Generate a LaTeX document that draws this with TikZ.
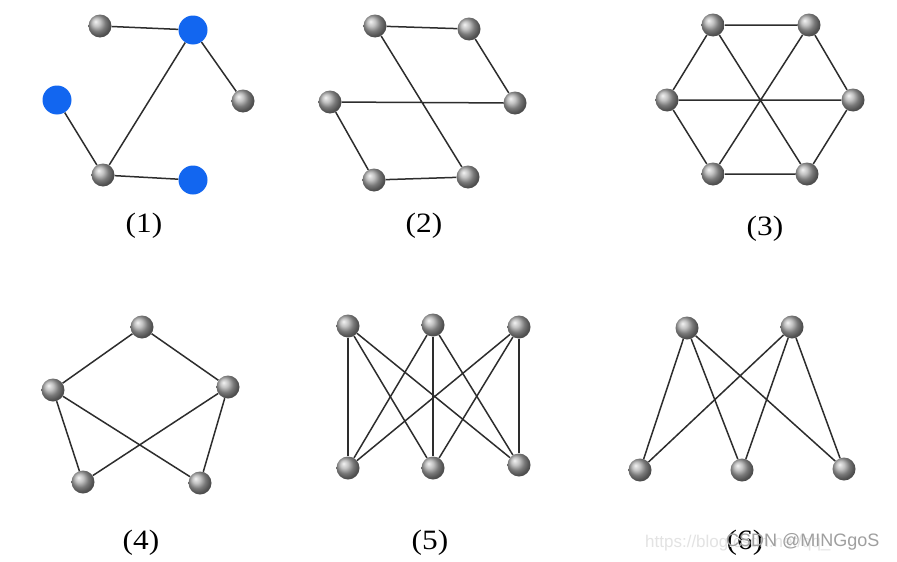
\documentclass[tikz,border=0pt]{standalone}
\usepackage{fontspec}
\usetikzlibrary{backgrounds}
\setmainfont{Liberation Serif}
\newfontfamily\wmfont{Liberation Sans}
\definecolor{nodeblue}{RGB}{18,102,240}
\definecolor{edgegray}{RGB}{45,45,45}
\begin{document}
\begin{tikzpicture}[x=1pt,y=-1pt,
  gnode/.style={circle,inner sep=0pt,minimum size=23pt,ball color=gray!65},
  bnode/.style={circle,inner sep=0pt,minimum size=29pt,fill=nodeblue},
  edge/.style={draw=edgegray,line width=1.5pt},
  lab/.style={font=\fontsize{28}{30}\selectfont,inner sep=0pt,xscale=1.12}]
\useasboundingbox (0,0) rectangle (897,562);

% ---------- (1)
\node[gnode] (n1a) at (100,26) {};
\node[bnode] (n1b) at (193,30) {};
\node[gnode] (n1c) at (243,101) {};
\node[bnode] (n1d) at (57,100) {};
\node[gnode] (n1e) at (103,175) {};
\node[bnode] (n1f) at (193,180) {};
\node[lab] (l1) at (144,226) {(1)};

% ---------- (2)
\node[gnode] (n2a) at (375,26) {};
\node[gnode] (n2b) at (469,29) {};
\node[gnode] (n2c) at (330,102) {};
\node[gnode] (n2d) at (515,103) {};
\node[gnode] (n2e) at (374,180) {};
\node[gnode] (n2f) at (468,177) {};
\node[lab] (l2) at (424,226) {(2)};

% ---------- (3)
\node[gnode] (n3a) at (713,25) {};
\node[gnode] (n3b) at (809,25) {};
\node[gnode] (n3c) at (667,100) {};
\node[gnode] (n3d) at (853,100) {};
\node[gnode] (n3e) at (713,174) {};
\node[gnode] (n3f) at (807,174) {};
\node[lab] (l3) at (765,229) {(3)};

% ---------- (4)
\node[gnode] (n4a) at (142,327) {};
\node[gnode] (n4b) at (53,390) {};
\node[gnode] (n4c) at (228,387) {};
\node[gnode] (n4d) at (83,482) {};
\node[gnode] (n4e) at (200,483) {};
\node[lab] (l4) at (141,543) {(4)};

% ---------- (5)
\node[gnode] (n5a) at (348,326) {};
\node[gnode] (n5b) at (433,325) {};
\node[gnode] (n5c) at (519,327) {};
\node[gnode] (n5d) at (348,468) {};
\node[gnode] (n5e) at (433,468) {};
\node[gnode] (n5f) at (519,465) {};
\node[lab] (l5) at (430,543) {(5)};

% ---------- (6)
\node[gnode] (n6a) at (687,328) {};
\node[gnode] (n6b) at (792,327) {};
\node[gnode] (n6c) at (640,470) {};
\node[gnode] (n6d) at (742,470) {};
\node[gnode] (n6e) at (844,469) {};
\node[lab] (l6) at (745,543) {(6)};

% watermark (overlays the label, as in the reference)
\node[font=\wmfont\fontsize{17}{18}\selectfont,text=gray!22,anchor=west,inner sep=0pt] (wm1) at (645,543) {https://blog.csdn.net/qq\_};
\node[font=\wmfont\fontsize{18}{19}\selectfont,text=gray!75,anchor=west,inner sep=0pt] (wm2) at (726,542) {CSDN @MINGgoS};

\begin{pgfonlayer}{background}
\fill[white] (0,0) rectangle (897,562);
% (1)
\draw[edge] (n1a) -- (n1b) (n1b) -- (n1c) (n1b) -- (n1e) (n1d) -- (n1e) (n1e) -- (n1f);
% (2)
\draw[edge] (n2a) -- (n2b) (n2b) -- (n2d) (n2c) -- (n2d) (n2a) -- (n2f) (n2c) -- (n2e) (n2e) -- (n2f);
% (3)
\draw[edge] (n3a) -- (n3b) (n3b) -- (n3d) (n3d) -- (n3f) (n3f) -- (n3e) (n3e) -- (n3c) (n3c) -- (n3a)
            (n3a) -- (n3f) (n3b) -- (n3e) (n3c) -- (n3d);
% (4)
\draw[edge] (n4a) -- (n4b) (n4a) -- (n4c) (n4b) -- (n4d) (n4b) -- (n4e) (n4c) -- (n4d) (n4c) -- (n4e);
% (5)
\foreach \u in {a,b,c}{\foreach \v in {d,e,f}{\draw[edge] (n5\u) -- (n5\v);}}
% (6)
\foreach \u in {a,b}{\foreach \v in {c,d,e}{\draw[edge] (n6\u) -- (n6\v);}}
\end{pgfonlayer}
\end{tikzpicture}
\end{document}
